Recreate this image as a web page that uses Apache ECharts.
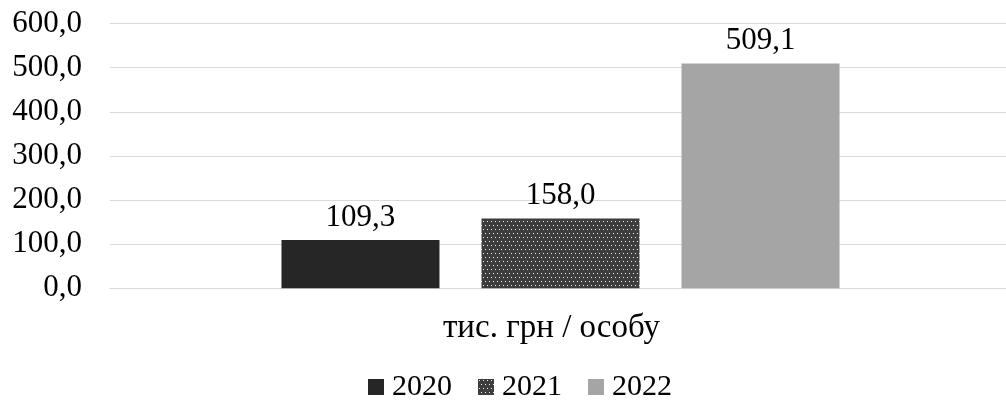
<!DOCTYPE html>
<html>
<head>
<meta charset="utf-8">
<script src="https://cdn.jsdelivr.net/npm/echarts@6/dist/echarts.min.js"></script>
<style>
  html, body { margin: 0; padding: 0; background: #fff; }
  #chart { width: 1006px; height: 403px; }
</style>
</head>
<body>
<div id="chart"></div>
<script>
const categories = ['тис. грн / особу'];
const years = ['2020', '2021', '2022'];
const values2020 = [109.3];
const values2021 = [158.0];
const values2022 = [509.1];

const FONT = '"Liberation Serif", "Times New Roman", serif';

// Dotted fill: dark background with a staggered grid of light dots
function dotPattern() {
  const c = document.createElement('canvas');
  c.width = 4; c.height = 8;
  const ctx = c.getContext('2d');
  ctx.fillStyle = '#3d3d3d';
  ctx.fillRect(0, 0, 4, 8);
  ctx.fillStyle = '#ececec';
  ctx.fillRect(1, 1, 1, 1);
  ctx.fillRect(3, 5, 1, 1);
  return c;
}

const fmt = v => v.toFixed(1).replace('.', ',');

const labelStyle = {
  show: true,
  position: 'top',
  distance: 7,
  color: '#000',
  fontFamily: FONT,
  fontSize: 31,
  formatter: p => fmt(p.value)
};

const chart = echarts.init(document.getElementById('chart'), null, { renderer: 'canvas' });
chart.setOption({
  animation: false,
  backgroundColor: '#fff',
  textStyle: { fontFamily: FONT },
  grid: {
    left: 110, right: -5, top: 23.5, bottom: 403 - 288.3,
    containLabel: false, outerBoundsMode: 'none'
  },
  legend: {
    data: years,
    bottom: -4,
    left: 363,
    itemWidth: 16,
    itemHeight: 16,
    itemGap: 26,
    icon: 'rect',
    textStyle: { fontFamily: FONT, fontSize: 30, color: '#000', padding: [2, 0, 0, 3] }
  },
  xAxis: {
    type: 'category',
    data: categories,
    axisLine: { show: true, lineStyle: { color: '#d9d9d9', width: 1 } },
    axisTick: { show: false },
    axisLabel: { color: '#000', fontFamily: FONT, fontSize: 33, margin: 24, padding: [0, 18, 0, 0] }
  },
  yAxis: {
    type: 'value',
    min: 0,
    max: 600,
    interval: 100,
    axisLine: { show: false },
    axisTick: { show: false },
    splitLine: { lineStyle: { color: '#d9d9d9', width: 1 } },
    axisLabel: {
      color: '#000',
      fontFamily: FONT,
      fontSize: 31,
      margin: 28,
      formatter: v => fmt(v)
    }
  },
  series: [
    {
      name: years[0], type: 'bar', data: values2020,
      barWidth: 158, barGap: '26.6%',
      itemStyle: { color: '#262626' },
      label: labelStyle
    },
    {
      name: years[1], type: 'bar', data: values2021,
      barWidth: 158,
      itemStyle: { color: { image: dotPattern(), repeat: 'repeat' } },
      label: labelStyle
    },
    {
      name: years[2], type: 'bar', data: values2022,
      barWidth: 158,
      itemStyle: { color: '#a5a5a5' },
      label: labelStyle
    }
  ]
});
</script>
</body>
</html>
